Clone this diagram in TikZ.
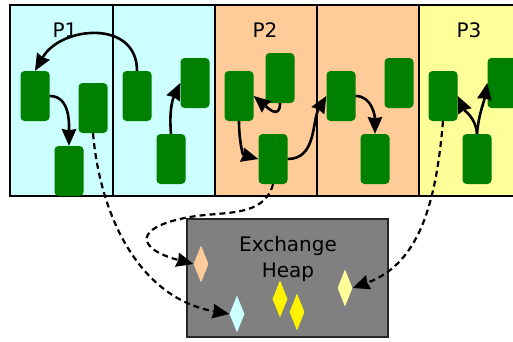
\documentclass[tikz,border=0pt]{standalone}
\usepackage{fontspec}
\setmainfont{DejaVu Sans}
\usetikzlibrary{arrows.meta,shapes.geometric}
\definecolor{cyanBg}{RGB}{204,255,255}
\definecolor{orangeBg}{RGB}{255,204,153}
\definecolor{yellowBg}{RGB}{255,255,153}
\definecolor{blkGreen}{RGB}{0,128,0}
\definecolor{heapGray}{RGB}{128,128,128}

\begin{document}
\begin{tikzpicture}[x=1pt,y=1pt]
  	\tikzset{blk/.style={rectangle,fill=blkGreen,rounded corners=4pt,minimum width=29pt,minimum height=50pt,inner sep=0pt}}
  	\tikzset{msg/.style={diamond,inner sep=0pt,minimum width=15pt,minimum height=37pt}}
  	\tikzset{lbl/.style={font=\fontsize{20}{26}\selectfont,inner sep=0pt}}
  	\tikzset{flow/.style={line width=2.6pt,-{Stealth[length=17pt,width=15pt,inset=1.5pt,line width=0pt]}}}
  	\tikzset{xfer/.style={flow,line width=2.2pt,dash pattern=on 6pt off 4pt}}

	  \useasboundingbox (0,0) rectangle (513,341);

	  % process columns
	  \fill[cyanBg] (10,145) rectangle (215,336);
	  \fill[orangeBg] (215,145) rectangle (419,336);
	  \fill[yellowBg] (419,145) rectangle (521,336);
	  \foreach \x in {113,215,317,419}
	    \draw[line width=2pt] (\x,145) -- (\x,336);
	  \draw[line width=2.4pt] (521,336) -| (10,145) -- (521,145);

	  \node [lbl] (p1) at (65,311) {P1};
	  \node [lbl] (p2) at (265,311) {P2};
	  \node [lbl] (p3) at (469,311) {P3};

	  % blocks
	  \node [blk] (p1a) at (35,245) {};
	  \node [blk] (p1b) at (93,233) {};
	  \node [blk] (p1c) at (69,170) {};
	  \node [blk] (p1d) at (137,245) {};
	  \node [blk] (p1e) at (195,258) {};
	  \node [blk] (p1f) at (171,182) {};
	  \node [blk] (p2a) at (239,245) {};
	  \node [blk] (p2b) at (280,263) {};
	  \node [blk] (p2c) at (273,182) {};
	  \node [blk] (p2d) at (341,245) {};
	  \node [blk] (p2e) at (399,258) {};
	  \node [blk] (p2f) at (375,182) {};
	  \node [blk] (p3a) at (443,245) {};
	  \node [blk] (p3b) at (502,258) {};
	  \node [blk] (p3c) at (477,182) {};

	  % exchange heap
	  \draw [fill=heapGray,draw=black!85,line width=2.4pt] (187,4) rectangle (388,122);
	  \node [lbl,align=center] (heap) at (288,82) {Exchange\\Heap};
	  \node [msg,fill=orangeBg] (m2) at (201,77) {};
	  \node [msg,fill=cyanBg] (m1) at (237,27) {};
	  \node [msg,fill=yellow] (y1) at (280,42) {};
	  \node [msg,fill=yellow] (y2) at (297,29) {};
	  \node [msg,fill=yellowBg] (m3) at (345,53) {};

	  \coordinate (bend) at (190,124);

		\draw [flow] (p1d.north) to[out=90,in=60,looseness=1.3] (p1a.north);
		\draw [flow] (p1a.east) to[out=0,in=90] (p1c.north);
		\draw [flow] (p1f.north) to[out=95,in=-115] (p1e.west);
		\draw [flow] (p2b.south) to[out=-90,in=-40,looseness=1.6] (p2a.east);
		\draw [flow] (p2a.south) to[out=-90,in=165] (p2c.west);
		\draw [flow] (p2c.east) to[out=0,in=-120] (p2d.west);
		\draw [flow] (p2d.east) to[out=0,in=90] (p2f.north);
		\draw [flow] (p3c.north) to[out=95,in=-65] (p3a.east);
		\draw [flow] (p3c.north) to[out=85,in=-100] (p3b.west);

		\draw [xfer] (p1b.south) to[out=-85,in=170] (m1.west);
		\draw [xfer] (p2c.south) to[out=-105,in=10] (bend) to[out=190,in=165,looseness=3.2] (m2.west);
		\draw [xfer] (p3a.south) to[out=-95,in=20] (m3.east);
  \end{tikzpicture}
\end{document}
